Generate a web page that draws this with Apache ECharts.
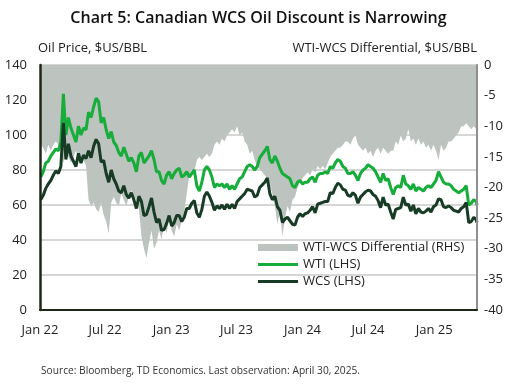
<!DOCTYPE html>
<html>
<head>
<meta charset="utf-8">
<script src="https://cdn.jsdelivr.net/npm/echarts@6/dist/echarts.min.js"></script>
<style>
html,body{margin:0;padding:0;background:#fff;}
#c{width:517px;height:385px;}
</style>
</head>
<body>
<div id="c"></div>
<script>
// Weekly observation dates
const dates = [
'2022-01-03','2022-01-10','2022-01-17','2022-01-24','2022-01-31','2022-02-07','2022-02-14','2022-02-21','2022-02-28',
'2022-03-07','2022-03-14','2022-03-21','2022-03-28','2022-04-04','2022-04-11','2022-04-18','2022-04-25',
'2022-05-02','2022-05-09','2022-05-16','2022-05-23','2022-05-30','2022-06-06','2022-06-13','2022-06-20','2022-06-27',
'2022-07-04','2022-07-11','2022-07-18','2022-07-25','2022-08-01','2022-08-08','2022-08-15','2022-08-22','2022-08-29',
'2022-09-05','2022-09-12','2022-09-19','2022-09-26','2022-10-03','2022-10-10','2022-10-17','2022-10-24','2022-10-31',
'2022-11-07','2022-11-14','2022-11-21','2022-11-28','2022-12-05','2022-12-12','2022-12-19','2022-12-26',
'2023-01-02','2023-01-09','2023-01-16','2023-01-23','2023-01-30','2023-02-06','2023-02-13','2023-02-20','2023-02-27',
'2023-03-06','2023-03-13','2023-03-20','2023-03-27','2023-04-03','2023-04-10','2023-04-17','2023-04-24',
'2023-05-01','2023-05-08','2023-05-15','2023-05-22','2023-05-29','2023-06-05','2023-06-12','2023-06-19','2023-06-26',
'2023-07-03','2023-07-10','2023-07-17','2023-07-24','2023-07-31','2023-08-07','2023-08-14','2023-08-21','2023-08-28',
'2023-09-04','2023-09-11','2023-09-18','2023-09-25','2023-10-02','2023-10-09','2023-10-16','2023-10-23','2023-10-30',
'2023-11-06','2023-11-13','2023-11-20','2023-11-27','2023-12-04','2023-12-11','2023-12-18','2023-12-25',
'2024-01-01','2024-01-08','2024-01-15','2024-01-22','2024-01-29','2024-02-05','2024-02-12','2024-02-19','2024-02-26',
'2024-03-04','2024-03-11','2024-03-18','2024-03-25','2024-04-01','2024-04-08','2024-04-15','2024-04-22','2024-04-29',
'2024-05-06','2024-05-13','2024-05-20','2024-05-27','2024-06-03','2024-06-10','2024-06-17','2024-06-24',
'2024-07-01','2024-07-08','2024-07-15','2024-07-22','2024-07-29','2024-08-05','2024-08-12','2024-08-19','2024-08-26',
'2024-09-02','2024-09-09','2024-09-16','2024-09-23','2024-09-30','2024-10-07','2024-10-14','2024-10-21','2024-10-28',
'2024-11-04','2024-11-11','2024-11-18','2024-11-25','2024-12-02','2024-12-09','2024-12-16','2024-12-23','2024-12-30',
'2025-01-06','2025-01-13','2025-01-20','2025-01-27','2025-02-03','2025-02-10','2025-02-17','2025-02-24',
'2025-03-03','2025-03-10','2025-03-17','2025-03-24','2025-03-31','2025-04-07','2025-04-14','2025-04-21','2025-04-28','2025-04-30'
];

// WTI, $US/BBL (LHS)
const wti = [
76,79,84,85,88, 90,92,91,96, 123.5,100,110,104, 100,96,105,100, 104,103,113,110,116, 121,119,107,110,
103,98,102,96, 94,90,88,93,89, 85,87,84,79, 88,90,84,86,88, 91,86,79,79, 74,72,77,79,
75,78,80,81,76, 77,79,76,78, 80,71,68,73, 80,82,80,76, 70,72,71,72,70, 72,69,71,69,
72,75,76,79,82, 83,82,80,82, 87,89,91,93.5, 86,84,88,85,81, 78,77,76,75, 71,70,73,74,
72,73,73,75,76, 73,77,78,78, 79,78,82,81, 84,86,85,82,81, 78,78,79,77, 74,78,80,81,
83,82,81,79,76, 73,78,74,75, 70,66,70,71,70, 77,72,71,69, 72,68,70,69, 68,70,71,70,72,
74,79,76,73, 72,72,71,69, 68,67,68,69,71, 60,61,63,62,60
];

// WCS, $US/BBL (LHS)
const wcs = [
63,65.5,69.5,72,74, 77,79.5,78,82, 107,86,95,88, 85,82,89.5,84, 88.5,86.5,91,87,93.5, 97.5,95,84.5,85.5,
78,73,80,75, 72,68,67,71,66, 64,67,63,58, 65,62,54,54.5,59, 64,56,50,52, 45.5,46,49.5,54,
48,50,54,54,50.5, 53,58,58,61, 62.5,55.5,53,57.5, 65,67.5,65,61.5, 57,59.5,58,60,57.5, 60.5,58,60.5,58,
62,63.5,65,66.5,69, 68.5,68,64.5,65.5, 70,71.5,73,75.5, 66.5,63,65,59,57, 50,52,53,51, 49,48.5,53,55,
53.5,55,55.5,57,59, 55.5,60.5,61,61.5, 62,62,67,66.5, 70,72.5,71.5,69,68.5, 65.5,65,67,65.5, 61,64.5,66,67.5,
68.5,68,66,65,62.5, 58.5,64.5,60,60.5, 56,52,57.5,58,58.5, 64.5,60,60.5,56.5, 60,55,58,56, 55.5,56.5,58,56,59,
60,63.5,63,59, 58.5,59.5,58.5,57, 56.5,56,58,59,61.5, 50,50.5,53,51.5,50
];

// WTI-WCS differential, $US/BBL (RHS)
const diff = [
-13,-13.5,-14.5,-13,-14, -13,-12.5,-13,-14, -16,-14,-15,-16, -15,-14,-15.5,-16, -15.5,-16.5,-22,-23,-22.5, -23.5,-24,-22.5,-24.5,
-25.5,-27.5,-22.5,-21.5, -22.5,-23,-21,-22,-23, -21.5,-20.5,-21.5,-22, -23.5,-28,-30,-31.5,-29, -27,-30,-29,-27, -28.5,-26,-27.5,-25,
-27,-28,-26,-27,-25.5, -24,-21,-18,-17, -17.5,-15.5,-15,-15.5, -15,-14.5,-15,-14.5, -13,-12.5,-13,-12,-12.5, -11.5,-11,-10.5,-11,
-10,-11.5,-11,-12.5,-13, -14.5,-14,-15.5,-16.5, -17,-17.5,-18,-18.5, -19.5,-21,-23,-26,-24, -28,-25,-23,-24, -22,-21.5,-20,-19,
-18.5,-18,-17.5,-18,-17, -17.5,-16.5,-17,-16.5, -17,-16,-15,-14.5, -14,-13.5,-13.5,-13,-12.5, -12.5,-13,-12,-11.5, -13,-13.5,-14,-13.5,
-14.5,-14,-15,-14,-13.5, -14.5,-13.5,-14,-14.5, -14,-14,-12.5,-13,-11.5, -12.5,-12,-10.5,-12.5, -12,-13,-12,-13, -12.5,-13.5,-13,-14,-13,
-14,-15.5,-13,-14, -13.5,-12.5,-12.5,-12, -11.5,-11,-10,-10,-9.5, -10,-10.5,-10,-10.5,-10.5
];

// X-axis tick positions
const tickDates = ['2022-01-01','2022-07-01','2023-01-01','2023-07-01','2024-01-01','2024-07-01','2025-01-01'];
const monthNames = ['Jan','Feb','Mar','Apr','May','Jun','Jul','Aug','Sep','Oct','Nov','Dec'];

function t(s){ const p = s.split('-').map(Number); return Date.UTC(p[0], p[1]-1, p[2]); }
function pairs(vals){ return vals.map((v,i)=>[t(dates[i]), v]); }

const FONT = '"Open Sans", "DejaVu Sans", sans-serif';
const chart = echarts.init(document.getElementById('c'), null, {renderer:'canvas'});

const lineIcon = 'path://M0,0 L40,0 L40,3 L0,3 Z';

chart.setOption({
  animation: false,
  backgroundColor: '#ffffff',
  textStyle: {fontFamily: FONT},
  grid: {left: 40, right: 40, top: 65, bottom: 75, containLabel: false},
  graphic: [
    {type:'text', left:'center', top: 10, style:{text:'Chart 5: Canadian WCS Oil Discount is Narrowing', font:'600 16px ' + FONT, fill:'#111'}},
    {type:'text', left: 38, top: 42, style:{text:'Oil Price, $US/BBL', font:'13px ' + FONT, fill:'#222'}},
    {type:'text', right: 40, top: 42, style:{text:'WTI-WCS Differential, $US/BBL', font:'13px ' + FONT, fill:'#222'}},
    {type:'text', left: 41, top: 366, style:{text:'Source: Bloomberg, TD Economics. Last observation: April 30, 2025.', font:'10.2px ' + FONT, fill:'#333'}}
  ],
  legend: {
    orient: 'vertical', left: 258, top: 241, padding: 0,
    itemWidth: 40, itemHeight: 7, itemGap: 4,
    textStyle: {fontSize: 13, color: '#222', fontFamily: FONT},
    data: [
      {name:'WTI-WCS Differential (RHS)', icon:'rect', itemStyle:{color:'#bdc3bf'}},
      {name:'WTI (LHS)', icon: lineIcon, itemStyle:{color:'#17ad3a'}},
      {name:'WCS (LHS)', icon: lineIcon, itemStyle:{color:'#173b24'}}
    ],
    selectedMode: false
  },
  xAxis: {
    type: 'value', min: t('2022-01-01'), max: t('2025-04-30'),
    z: 10,
    axisLine: {show: true, lineStyle: {color: '#1c2816', width: 2}},
    axisTick: {show: false},
    splitLine: {show: false},
    axisLabel: {
      customValues: tickDates.map(t),
      fontSize: 13, color: '#222', margin: 14, fontFamily: FONT,
      formatter: function(v){ const d = new Date(v); return monthNames[d.getUTCMonth()] + ' ' + String(d.getUTCFullYear()).slice(2); }
    }
  },
  yAxis: [
    {
      type: 'value', min: 0, max: 140, interval: 20, position: 'left',
      axisLine: {show: false}, axisTick: {show: false},
      axisLabel: {fontSize: 13, color: '#222', margin: 13, fontFamily: FONT},
      splitLine: {show: true, lineStyle: {color: '#d6d6d6', width: 2}}
    },
    {
      type: 'value', min: -40, max: 0, interval: 5, position: 'right',
      z: 10,
      axisLine: {show: true, lineStyle: {color: '#8f8f8f', width: 2}}, axisTick: {show: false},
      axisLabel: {fontSize: 13, color: '#222', margin: 7, fontFamily: FONT},
      splitLine: {show: false}
    },
    {
      type: 'value', min: 0, max: 140, interval: 20, position: 'left', offset: 0,
      z: 10,
      axisLine: {show: true, lineStyle: {color: '#1c2816', width: 2.5}}, axisTick: {show: false},
      axisLabel: {show: false}, splitLine: {show: false}
    }
  ],
  series: [
    {
      name: 'WTI-WCS Differential (RHS)', type: 'line', yAxisIndex: 1,
      data: pairs(diff), showSymbol: false, symbol: 'none',
      lineStyle: {width: 0, color: '#bdc3bf'},
      itemStyle: {color: '#bdc3bf'},
      areaStyle: {color: '#bdc3bf', opacity: 1, origin: 'end'},
      z: 1
    },
    {
      name: 'WTI (LHS)', type: 'line', yAxisIndex: 0,
      data: pairs(wti), showSymbol: false, symbol: 'none',
      lineStyle: {width: 3, color: '#17ad3a'}, itemStyle: {color: '#17ad3a'},
      z: 3
    },
    {
      name: 'WCS (LHS)', type: 'line', yAxisIndex: 0,
      data: pairs(wcs), showSymbol: false, symbol: 'none',
      lineStyle: {width: 3, color: '#173b24'}, itemStyle: {color: '#173b24'},
      z: 4
    }
  ]
});
</script>
</body>
</html>
